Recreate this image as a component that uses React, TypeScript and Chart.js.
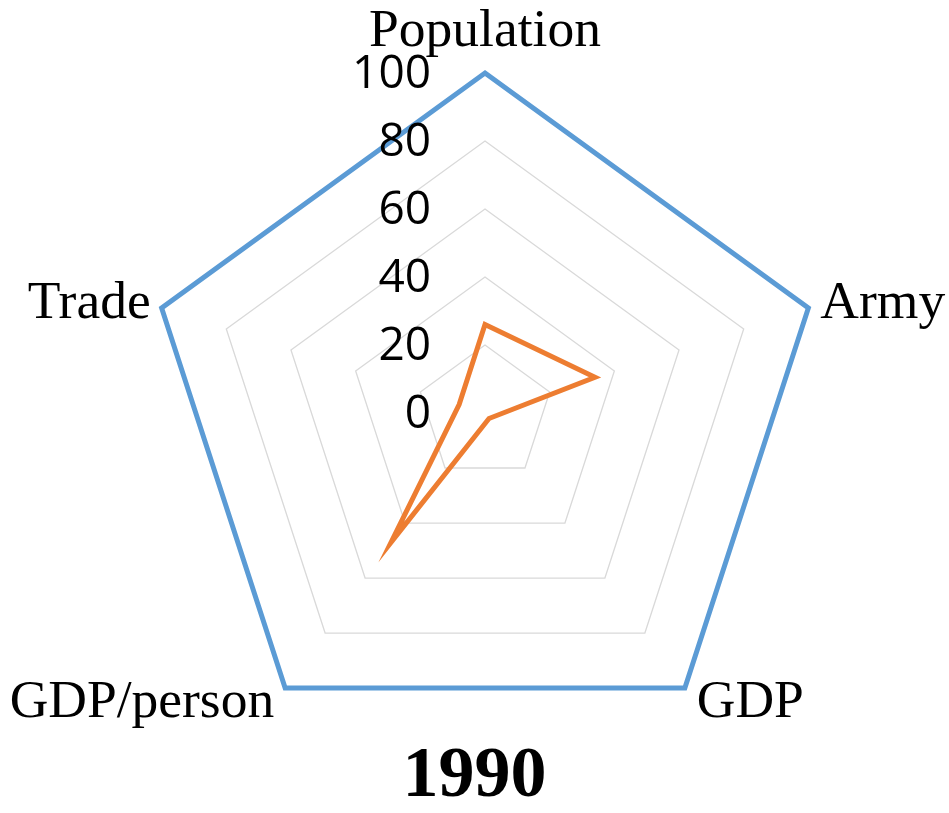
import { useEffect, useRef } from 'react';
import { Chart, registerables } from 'chart.js';

Chart.register(...registerables);

const categories = ['Population', 'Army', 'GDP', 'GDP/person', 'Trade'];
const outerValues = [100, 100, 100, 100, 100];
const values1990 = [26, 34, 2, 47, 8];
const scaleMin = 0;
const scaleMax = 100;
const scaleStep = 20;
const titleText = '1990';

const radarLabels = {
  id: 'radarLabels',
  afterDraw(chart: any) {
    const s = chart.scales.r;
    const ctx = chart.ctx;
    ctx.save();
    ctx.fillStyle = '#000000';
    // radial tick labels, right-aligned left of the vertical axis
    ctx.font = '46px "Open Sans"';
    ctx.textAlign = 'right';
    ctx.textBaseline = 'middle';
    s.ticks.forEach((t: any) => {
      const p = s.getPointPositionForValue(0, t.value);
      ctx.fillText(t.label, p.x - 54, p.y + 2);
    });
    // category labels
    ctx.font = '53.5px "Liberation Serif"';
    chart.data.labels.forEach((lab: string, i: number) => {
      const p = s.getPointPositionForValue(i, s.max);
      const a = s.getIndexAngle(i);
      const sx = Math.sin(a);
      const cy = Math.cos(a);
      if (Math.abs(sx) < 0.1) {
        ctx.textAlign = 'center';
        ctx.textBaseline = 'alphabetic';
        ctx.fillText(lab, p.x, p.y - 27);
        return;
      }
      ctx.textAlign = sx > 0 ? 'left' : 'right';
      ctx.textBaseline = 'middle';
      const x = p.x + (sx > 0 ? 12 : -11);
      const y = cy > 0 ? p.y - 4 : p.y + 15;
      ctx.fillText(lab, x, y);
    });
    ctx.restore();
  },
};

export default function App() {
  const ref = useRef<HTMLCanvasElement | null>(null);
  useEffect(() => {
    document.body.style.margin = '0';
    document.body.style.overflow = 'hidden';
    const canvas = ref.current;
    if (!canvas) return;
    const chart = new Chart(canvas, {
      type: 'radar',
      data: {
        labels: categories,
        datasets: [
          {
            label: 'Max',
            data: outerValues,
            borderColor: '#5B9BD5',
            backgroundColor: 'rgba(0,0,0,0)',
            borderWidth: 5,
            pointRadius: 0,
            fill: false,
            borderJoinStyle: 'miter',
          },
          {
            label: titleText,
            data: values1990,
            borderColor: '#ED7D31',
            backgroundColor: 'rgba(0,0,0,0)',
            borderWidth: 5,
            pointRadius: 0,
            fill: false,
            borderJoinStyle: 'miter',
          },
        ],
      },
      options: {
        responsive: false,
        animation: false,
        devicePixelRatio: 1,
        layout: { padding: { top: 73, left: 0, right: 0, bottom: 11 } },
        plugins: {
          legend: { display: false },
          tooltip: { enabled: false },
          title: {
            display: true,
            position: 'bottom',
            text: titleText,
            color: '#000000',
            font: { family: 'Liberation Serif', size: 72, weight: 'bold', lineHeight: 0.68 },
            padding: { top: 0, bottom: 0 },
          },
        },
        scales: {
          r: {
            min: scaleMin,
            max: scaleMax,
            ticks: { stepSize: scaleStep, display: false },
            pointLabels: { display: false },
            angleLines: { display: false },
            grid: { color: '#D9D9D9', lineWidth: 1.3 },
            afterFit: (scale: any) => {
              scale.xCenter += 11;
            },
          },
        },
      },
      plugins: [radarLabels],
    } as any);
    return () => chart.destroy();
  }, []);
  return <canvas ref={ref} width={949} height={813} style={{ display: 'block' }} />;
}
